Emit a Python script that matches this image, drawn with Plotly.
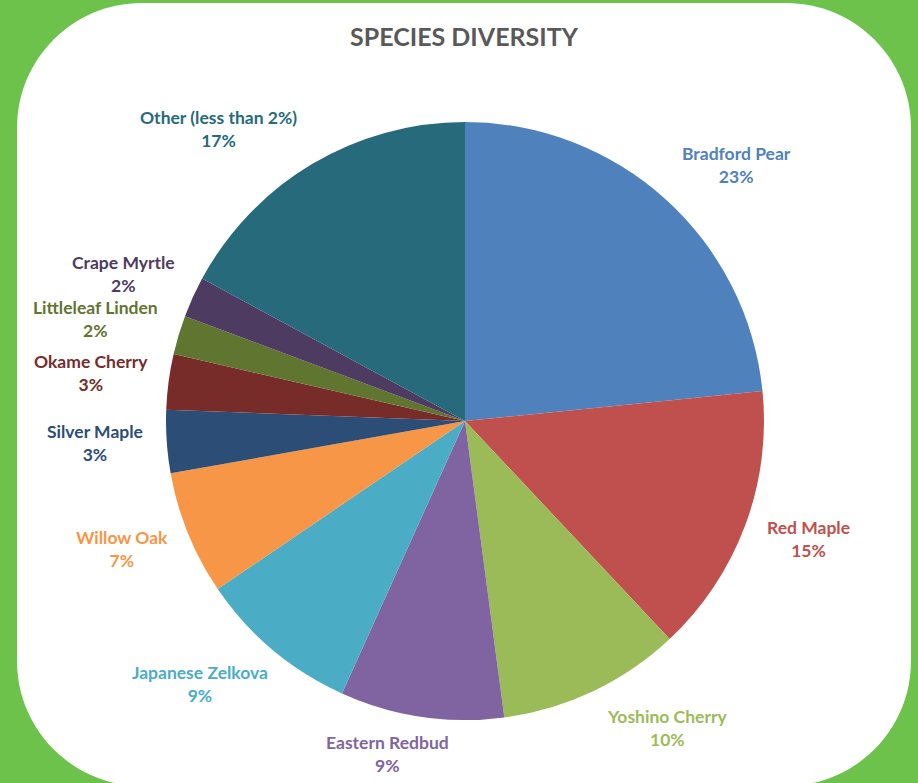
import plotly.graph_objects as go

# ---- data ----
species = ["Bradford Pear", "Red Maple", "Yoshino Cherry", "Eastern Redbud",
           "Japanese Zelkova", "Willow Oak", "Silver Maple", "Okame Cherry",
           "Littleleaf Linden", "Crape Myrtle", "Other (less than 2%)"]
shares = [23.4, 14.6, 9.9, 8.85, 8.75, 6.7, 3.4, 3.0, 2.1, 2.2, 17.1]

# ---- styling ----
colors = ["#4f81bd", "#c0504d", "#9bbb59", "#8064a2", "#4bacc6", "#f79646",
          "#2c4d75", "#772c2a", "#5f7530", "#4d3b62", "#276a7c"]
W, H = 918, 783
# label block centres in pixels (x, y from top)
label_pos = [(736, 165), (808, 539), (667, 728), (387, 754), (200, 684),
             (122, 549), (95, 443), (91, 373), (95, 319), (123, 274), (218, 129)]
cx, cy, R = 465, 421, 299
FONT = "Lato"

total = sum(shares)
fig = go.Figure(go.Pie(
    labels=species, values=shares, sort=False, direction="clockwise",
    rotation=0, textinfo="none", hoverinfo="label+percent",
    marker=dict(colors=colors, line=dict(width=0)),
    showlegend=False,
    domain=dict(x=[(cx - R) / W, (cx + R) / W],
                y=[(H - cy - R) / H, (H - cy + R) / H]),
))

for name, v, col, (px, py) in zip(species, shares, colors, label_pos):
    pct = round(100 * v / total)
    fig.add_annotation(
        x=px / W, y=1 - py / H, xref="paper", yref="paper",
        text=f"<b>{name}<br>{pct}%</b>", showarrow=False,
        font=dict(family=FONT, size=17.5, color=col),
        xanchor="center", yanchor="middle", align="center", borderpad=0)

# rounded white panel on green background
def px2p(x, y):
    return x / W, 1 - y / H

L, T, Rr, B, r = 17, 3, 911, 786, 125
k = 0.5523 * r
def P(x, y):
    a, b = px2p(x, y)
    return f"{a:.5f},{b:.5f}"
path = (f"M {P(L + r, T)} L {P(Rr - r, T)} "
        f"C {P(Rr - r + k, T)} {P(Rr, T + r - k)} {P(Rr, T + r)} "
        f"L {P(Rr, B - r)} "
        f"C {P(Rr, B - r + k)} {P(Rr - r + k, B)} {P(Rr - r, B)} "
        f"L {P(L + r, B)} "
        f"C {P(L + r - k, B)} {P(L, B - r + k)} {P(L, B - r)} "
        f"L {P(L, T + r)} "
        f"C {P(L, T + r - k)} {P(L + r - k, T)} {P(L + r, T)} Z")
fig.add_shape(type="path", path=path, xref="paper", yref="paper",
              fillcolor="white", line=dict(width=0), layer="below")

fig.update_layout(
    width=W, height=H,
    margin=dict(l=0, r=0, t=0, b=0),
    paper_bgcolor="#6cc24a",
    title=dict(text="<b>SPECIES DIVERSITY</b>", x=464 / W, xanchor="center",
               y=1 - 37 / H, yanchor="middle",
               font=dict(family=FONT, size=25, color="#595959")),
)

fig.write_html("out.html")
